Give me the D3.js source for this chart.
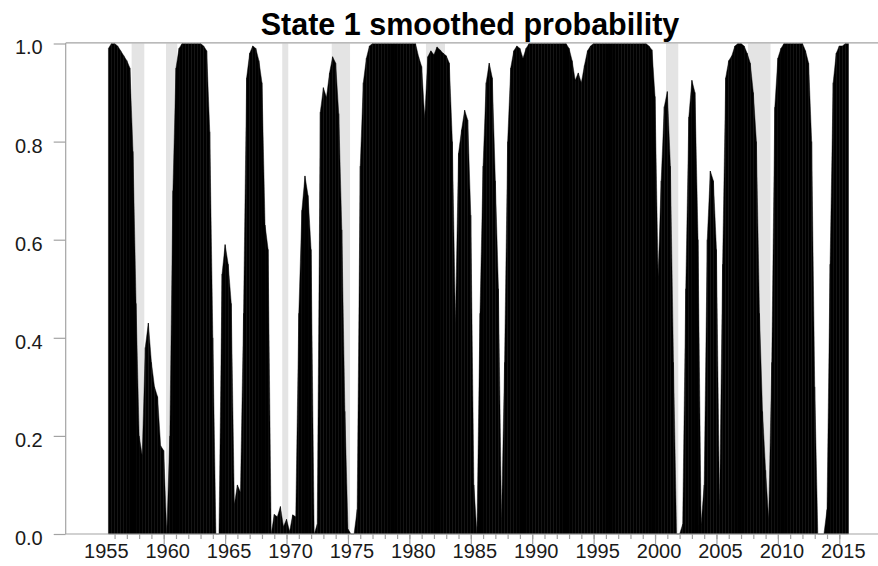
<!DOCTYPE html>
<html>
<head>
<meta charset="utf-8">
<script src="https://cdn.jsdelivr.net/npm/d3@7"></script>
<style>
  html, body { margin: 0; padding: 0; background: #ffffff; }
  svg { display: block; }
  text { font-family: "Liberation Sans", Arial, Helvetica, sans-serif; }
</style>
</head>
<body>
<svg id="chart" width="878" height="566"></svg>
<script>
// ---- data ----
const titleText = "State 1 smoothed probability";
const firstQuarter = 1955.5;          // 1955Q3
const quarterStep = 0.25;
// State 1 smoothed probability, quarterly, 1955Q3 .. 2015Q4
const probability = [
  0.99, 1.0,                      // 1955 Q3-Q4
  1.0, 0.995, 0.985, 0.975,       // 1956
  0.965, 0.95, 0.78, 0.47,        // 1957
  0.2, 0.16, 0.38, 0.43,          // 1958
  0.35, 0.30, 0.28, 0.18,         // 1959
  0.17, 0.0, 0.2, 0.7,            // 1960
  0.95, 0.99, 1.0, 1.0,           // 1961
  1.0, 1.0, 1.0, 1.0,             // 1962
  1.0, 0.995, 0.985, 0.82,        // 1963
  0.4, 0.0, 0.0, 0.53,            // 1964
  0.59, 0.55, 0.47, 0.06,         // 1965
  0.10, 0.085, 0.45, 0.93,        // 1966
  0.98, 0.995, 0.99, 0.965,       // 1967
  0.92, 0.63, 0.58, 0.0,          // 1968
  0.04, 0.035, 0.056, 0.015,      // 1969
  0.03, 0.005, 0.039, 0.035,      // 1970
  0.45, 0.66, 0.73, 0.69,         // 1971
  0.58, 0.0, 0.02, 0.86,          // 1972
  0.91, 0.89, 0.94, 0.973,        // 1973
  0.96, 0.857, 0.62, 0.25,        // 1974
  0.01, 0.0, 0.0, 0.05,           // 1975
  0.75, 0.92, 0.97, 0.995,        // 1976
  1.0, 1.0, 1.0, 1.0,             // 1977
  1.0, 1.0, 1.0, 1.0,             // 1978
  1.0, 1.0, 1.0, 1.0,             // 1979
  1.0, 1.0, 1.0, 0.973,           // 1980
  0.953, 0.848, 0.973, 0.985,     // 1981
  0.977, 0.993, 0.987, 0.98,      // 1982
  0.975, 0.96, 0.8, 0.43,         // 1983
  0.776, 0.824, 0.864, 0.844,     // 1984
  0.65, 0.1, 0.0, 0.45,           // 1985
  0.75, 0.92, 0.96, 0.93,         // 1986
  0.72, 0.5, 0.03, 0.35,          // 1987
  0.8, 0.95, 0.985, 0.995,        // 1988
  0.99, 0.97, 0.99, 1.0,          // 1989
  1.0, 1.0, 1.0, 1.0,             // 1990
  1.0, 1.0, 1.0, 1.0,             // 1991
  1.0, 1.0, 1.0, 1.0,             // 1992
  0.99, 0.965, 0.925, 0.94,       // 1993
  0.92, 0.955, 0.985, 0.995,      // 1994
  1.0, 1.0, 1.0, 1.0,             // 1995
  1.0, 1.0, 1.0, 1.0,             // 1996
  1.0, 1.0, 1.0, 1.0,             // 1997
  1.0, 1.0, 1.0, 1.0,             // 1998
  1.0, 1.0, 0.995, 0.987,         // 1999
  0.892, 0.524, 0.72, 0.871,      // 2000
  0.902, 0.75, 0.35, 0.0,         // 2001
  0.0, 0.02, 0.5, 0.85,           // 2002
  0.925, 0.9, 0.6, 0.02,          // 2003
  0.1, 0.6, 0.74, 0.72,           // 2004
  0.58, 0.05, 0.55, 0.93,         // 2005
  0.965, 0.975, 0.995, 1.0,       // 2006
  1.0, 0.995, 0.98, 0.96,         // 2007
  0.9, 0.8, 0.45, 0.25,           // 2008
  0.13, 0.03, 0.35, 0.87,         // 2009
  0.97, 0.99, 1.0, 1.0,           // 2010
  1.0, 1.0, 1.0, 1.0,             // 2011
  1.0, 0.985, 0.96, 0.8,          // 2012
  0.3, 0.0, 0.0, 0.0,             // 2013
  0.05, 0.55, 0.92, 0.98,         // 2014
  0.995, 0.995, 1.0, 1.0          // 2015
];
// shaded recession periods (visible extents, decimal years)
const recessionStart = [1957.39, 1960.19, 1969.65, 1973.68, 1981.35, 2000.89, 2007.57];
const recessionEnd   = [1958.42, 1961.10, 1970.14, 1975.17, 1982.90, 2001.89, 2009.40];
// axis ticks
const minorTickYears = d3.range(1956, 2016);
const majorTickYears = [1960, 1965, 1970, 1975, 1980, 1985, 1990, 1995, 2000, 2005, 2010, 2015];
const xLabelYears = [1955, 1960, 1965, 1970, 1975, 1980, 1985, 1990, 1995, 2000, 2005, 2010, 2015];
const yTickValues = [0.0, 0.2, 0.4, 0.6, 0.8, 1.0];

// ---- build series table ----
const series = probability.map((v, i) => ({ t: firstQuarter + i * quarterStep, v: v }));

// ---- layout ----
const svg = d3.select("#chart");
const plotLeft = 65.7, plotRight = 878, plotTop = 43.5, plotBottom = 534;

const x = d3.scaleLinear().domain([1960, 2015]).range([163.7, 839.3]);
const y = d3.scaleLinear().domain([0, 1]).range([plotBottom, plotTop]);

const axisColor = "#a3a3a3";
const textColor = "#1a1a1a";
const fontSize = 20;

// recession shading
const bands = recessionStart.map((s, i) => ({ s: s, e: recessionEnd[i] }));
svg.append("g").selectAll("rect").data(bands).join("rect")
  .attr("x", d => x(d.s))
  .attr("width", d => x(d.e) - x(d.s))
  .attr("y", y(1))
  .attr("height", y(0) - y(1))
  .attr("fill", "#e4e4e4");

// probability area, drawn segment by segment (like the original polygons)
const area = d3.area().x(d => x(d.t)).y0(y(0)).y1(d => y(d.v));
const segments = d3.range(series.length - 1).map(i => [series[i], series[i + 1]]);
svg.append("g").selectAll("path").data(segments).join("path")
  .attr("d", area)
  .attr("fill", "#000000")
  .attr("stroke", "#000000")
  .attr("stroke-width", 0.45)
  .attr("stroke-linejoin", "round");

// frame lines
svg.append("line").attr("x1", plotLeft).attr("x2", plotRight).attr("y1", 42.9).attr("y2", 42.9)
  .attr("stroke", axisColor).attr("stroke-width", 1.2);
svg.append("line").attr("x1", plotLeft).attr("x2", plotRight).attr("y1", plotBottom).attr("y2", plotBottom)
  .attr("stroke", axisColor).attr("stroke-width", 1.2);

// y axis
const yAxis = d3.axisLeft(y).tickValues(yTickValues).tickSize(12).tickPadding(11)
  .tickFormat(d3.format(".1f"));
const gy = svg.append("g").attr("transform", `translate(${plotLeft},0)`).call(yAxis);
gy.select(".domain").attr("stroke", axisColor).attr("stroke-width", 1.2)
  .attr("d", `M0,${plotTop - 0.6}V${plotBottom}`);
gy.selectAll(".tick line").attr("stroke", axisColor).attr("stroke-width", 1.2);
gy.selectAll(".tick text").attr("fill", textColor).attr("font-size", fontSize)
  .attr("dy", "0.52em").attr("font-family", "'Liberation Sans', Arial, sans-serif");

// x axis: minor ticks, major ticks, labels
const gxMinor = svg.append("g").attr("transform", `translate(0,${plotBottom})`)
  .call(d3.axisBottom(x).tickValues(minorTickYears).tickSize(5).tickFormat(""));
const gxMajor = svg.append("g").attr("transform", `translate(0,${plotBottom})`)
  .call(d3.axisBottom(x).tickValues(majorTickYears).tickSize(10).tickFormat(""));
const gxLab = svg.append("g").attr("transform", `translate(3.5,${plotBottom})`)
  .call(d3.axisBottom(x).tickValues(xLabelYears).tickSize(0).tickPadding(10).tickFormat(d3.format("d")));
[gxMinor, gxMajor, gxLab].forEach(g => g.select(".domain").remove());
svg.selectAll(".tick line").attr("stroke", axisColor).attr("stroke-width", 1.2);
gxLab.selectAll(".tick text").attr("fill", textColor).attr("font-size", fontSize)
  .attr("font-family", "'Liberation Sans', Arial, sans-serif");

// title
svg.append("text")
  .attr("x", 470).attr("y", 35)
  .attr("text-anchor", "middle")
  .attr("font-size", 30.5).attr("font-weight", "bold")
  .attr("fill", "#000")
  .text(titleText);
</script>
</body>
</html>
